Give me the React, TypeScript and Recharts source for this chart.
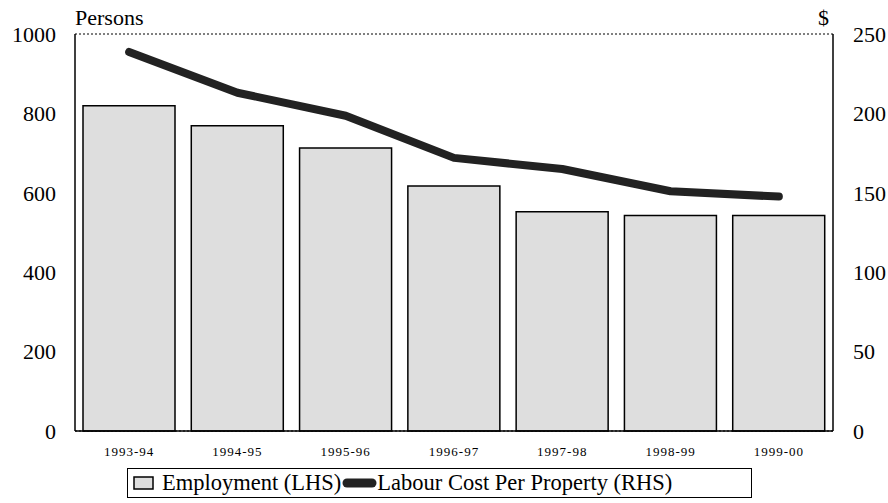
import { ComposedChart, Bar, Line, XAxis, YAxis, CartesianGrid, Legend } from 'recharts';

const years = ['1993-94', '1994-95', '1995-96', '1996-97', '1997-98', '1998-99', '1999-00'];
const employment = [819, 769, 713, 617, 552, 543, 543];
const labourCost = [238.7, 213, 198.5, 172, 165, 151, 147.6];
const leftTicks = [0, 200, 400, 600, 800, 1000];
const rightTicks = [0, 50, 100, 150, 200, 250];

const data = years.map((year, i) => ({
  year,
  employment: employment[i],
  labourCost: labourCost[i]
}));

const FONT = '"Liberation Serif", "Times New Roman", Times, serif';

function LegendBox() {
  return (
    <div
      style={{
        border: '1.5px solid #000',
        height: 30,
        width: 625,
        boxSizing: 'border-box',
        display: 'flex',
        alignItems: 'center',
        fontFamily: FONT,
        fontSize: 22.5,
        color: '#000',
        whiteSpace: 'nowrap',
        background: '#fff'
      }}
    >
      <svg width={30} height={20} style={{ marginLeft: 4 }}>
        <rect x={2} y={4} width={19} height={12} fill="#dedede" stroke="#000" strokeWidth={1.5} />
      </svg>
      <span>Employment (LHS)</span>
      <svg width={35} height={20} style={{ marginLeft: 1 }}>
        <line x1={5} y1={10} x2={30} y2={10} stroke="#222" strokeWidth={9} strokeLinecap="round" />
      </svg>
      <span>Labour Cost Per Property (RHS)</span>
    </div>
  );
}

export default function App() {
  return (
    <div style={{ position: 'absolute', left: 0, top: 0 }}>
      <ComposedChart
        width={888}
        height={503}
        data={data}
        margin={{ top: 34, right: 0, left: 0, bottom: 12 }}
      >
        <CartesianGrid
          horizontal
          vertical={false}
          stroke="#000"
          strokeDasharray="2 2"
          strokeWidth={1}
        />
        <XAxis
          dataKey="year"
          height={30}
          tickLine={false}
          axisLine={{ stroke: '#000', strokeWidth: 1.5 }}
          tick={{ fill: '#000', fontSize: 13, fontFamily: FONT, letterSpacing: 1 }}
          tickMargin={10}
        />
        <YAxis
          yAxisId="left"
          orientation="left"
          width={75}
          domain={[0, 1000]}
          ticks={leftTicks}
          tickLine={false}
          axisLine={{ stroke: '#000', strokeWidth: 1.5 }}
          tick={{ fill: '#000', fontSize: 22, fontFamily: FONT }}
          tickMargin={13}
          label={{
            content: (props: any) => {
              const vb = props.viewBox || {};
              return (
                <text
                  x={vb.x + vb.width}
                  y={vb.y - 9}
                  fontSize={22}
                  fontFamily={FONT}
                  fill="#000"
                  textAnchor="start"
                >
                  Persons
                </text>
              );
            }
          }}
        />
        <YAxis
          yAxisId="right"
          orientation="right"
          width={55}
          domain={[0, 250]}
          ticks={rightTicks}
          tickLine={false}
          axisLine={{ stroke: '#000', strokeWidth: 1.5 }}
          tick={{ fill: '#000', fontSize: 22, fontFamily: FONT }}
          tickMargin={14}
          label={{
            content: (props: any) => {
              const vb = props.viewBox || {};
              return (
                <text
                  x={vb.x - 4}
                  y={vb.y - 9}
                  fontSize={22}
                  fontFamily={FONT}
                  fill="#000"
                  textAnchor="end"
                >
                  $
                </text>
              );
            }
          }}
        />
        <Legend
          content={() => <LegendBox />}
          wrapperStyle={{ position: 'absolute', left: 127, top: 468, width: 625, height: 30 }}
        />
        <Bar
          yAxisId="left"
          dataKey="employment"
          name="Employment (LHS)"
          fill="#dedede"
          stroke="#000"
          strokeWidth={1.5}
          barSize={92}
          isAnimationActive={false}
        />
        <Line
          yAxisId="right"
          type="linear"
          dataKey="labourCost"
          name="Labour Cost Per Property (RHS)"
          stroke="#222"
          strokeWidth={8}
          strokeLinecap="round"
          strokeLinejoin="round"
          dot={false}
          activeDot={false}
          isAnimationActive={false}
        />
      </ComposedChart>
    </div>
  );
}
